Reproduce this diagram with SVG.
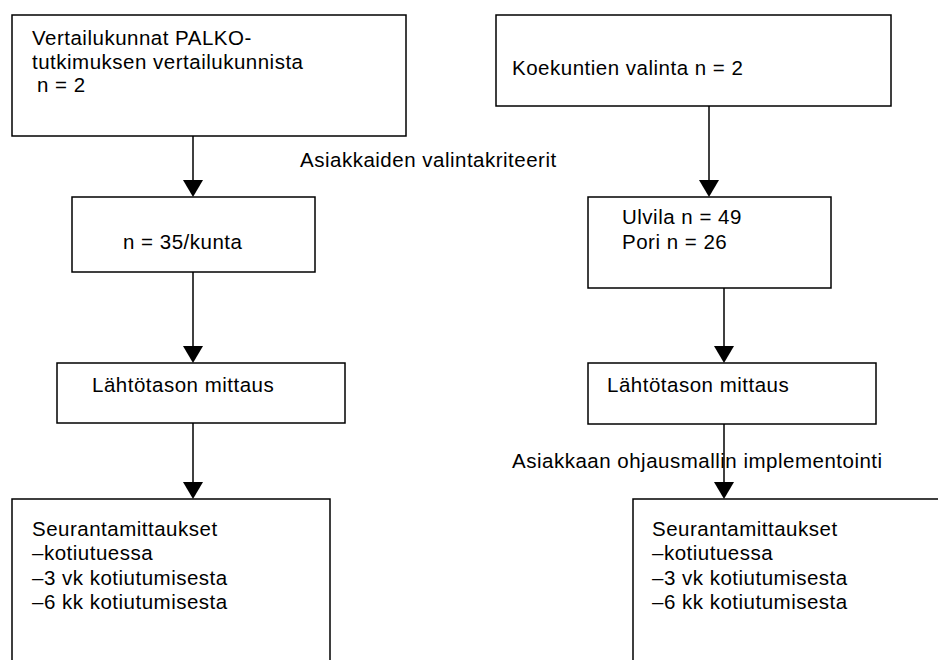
<svg xmlns="http://www.w3.org/2000/svg" width="938" height="660" viewBox="0 0 938 660">
  <style>
    .box { fill: #ffffff; stroke: #000000; stroke-width: 1.5; }
    .t { font-family: "Liberation Sans", Arial, sans-serif; font-size: 20.5px; letter-spacing: 0.5px; fill: #000000; }
    .line { stroke: #000000; stroke-width: 1.5; fill: none; }
    .head { fill: #000000; stroke: none; }
  </style>
  <rect x="0" y="0" width="938" height="660" fill="#ffffff"/>

  <g id="connectors">
    <line class="line" x1="193" y1="136" x2="193" y2="182"/>
    <polygon class="head" points="183,180 203,180 193,197"/>
    <line class="line" x1="193" y1="272" x2="193" y2="348"/>
    <polygon class="head" points="183,346 203,346 193,363"/>
    <line class="line" x1="193" y1="423" x2="193" y2="484"/>
    <polygon class="head" points="183,482 203,482 193,499"/>

    <line class="line" x1="709" y1="106" x2="709" y2="182"/>
    <polygon class="head" points="699,180 719,180 709,197"/>
    <line class="line" x1="724" y1="288" x2="724" y2="348"/>
    <polygon class="head" points="714,346 734,346 724,363"/>
    <line class="line" x1="724" y1="424" x2="724" y2="484"/>
    <polygon class="head" points="714,482 734,482 724,499"/>

    <text class="t" x="300" y="167">Asiakkaiden valintakriteerit</text>
    <text class="t" x="512" y="468">Asiakkaan ohjausmallin implementointi</text>
  </g>

  <g id="node-vertailukunnat">
    <rect class="box" x="12" y="15" width="394" height="121"/>
    <text class="t" x="32" y="45">Vertailukunnat PALKO-<tspan x="32" dy="23.5">tutkimuksen vertailukunnista</tspan><tspan x="37" dy="23.5">n = 2</tspan></text>
  </g>

  <g id="node-n35">
    <rect class="box" x="72" y="197" width="243" height="75"/>
    <text class="t" x="123" y="249">n = 35/kunta</text>
  </g>

  <g id="node-lahtotaso-left">
    <rect class="box" x="57" y="363" width="288" height="60"/>
    <text class="t" x="92" y="392">Lähtötason mittaus</text>
  </g>

  <g id="node-seuranta-left">
    <rect class="box" x="12" y="499" width="318" height="175"/>
    <text class="t" x="32" y="536">Seurantamittaukset<tspan x="32" dy="24.3">–kotiutuessa</tspan><tspan x="32" dy="24.3">–3 vk kotiutumisesta</tspan><tspan x="32" dy="24.3">–6 kk kotiutumisesta</tspan></text>
  </g>

  <g id="node-koekunnat">
    <rect class="box" x="496" y="15" width="395" height="91"/>
    <text class="t" x="512" y="75">Koekuntien valinta n = 2</text>
  </g>

  <g id="node-ulvila-pori">
    <rect class="box" x="588" y="197" width="243" height="91"/>
    <text class="t" x="622" y="224">Ulvila n = 49<tspan x="622" dy="25">Pori n = 26</tspan></text>
  </g>

  <g id="node-lahtotaso-right">
    <rect class="box" x="588" y="363" width="288" height="61"/>
    <text class="t" x="607" y="392">Lähtötason mittaus</text>
  </g>

  <g id="node-seuranta-right">
    <rect class="box" x="633" y="499" width="320" height="175"/>
    <text class="t" x="652" y="536">Seurantamittaukset<tspan x="652" dy="24.3">–kotiutuessa</tspan><tspan x="652" dy="24.3">–3 vk kotiutumisesta</tspan><tspan x="652" dy="24.3">–6 kk kotiutumisesta</tspan></text>
  </g>
</svg>
